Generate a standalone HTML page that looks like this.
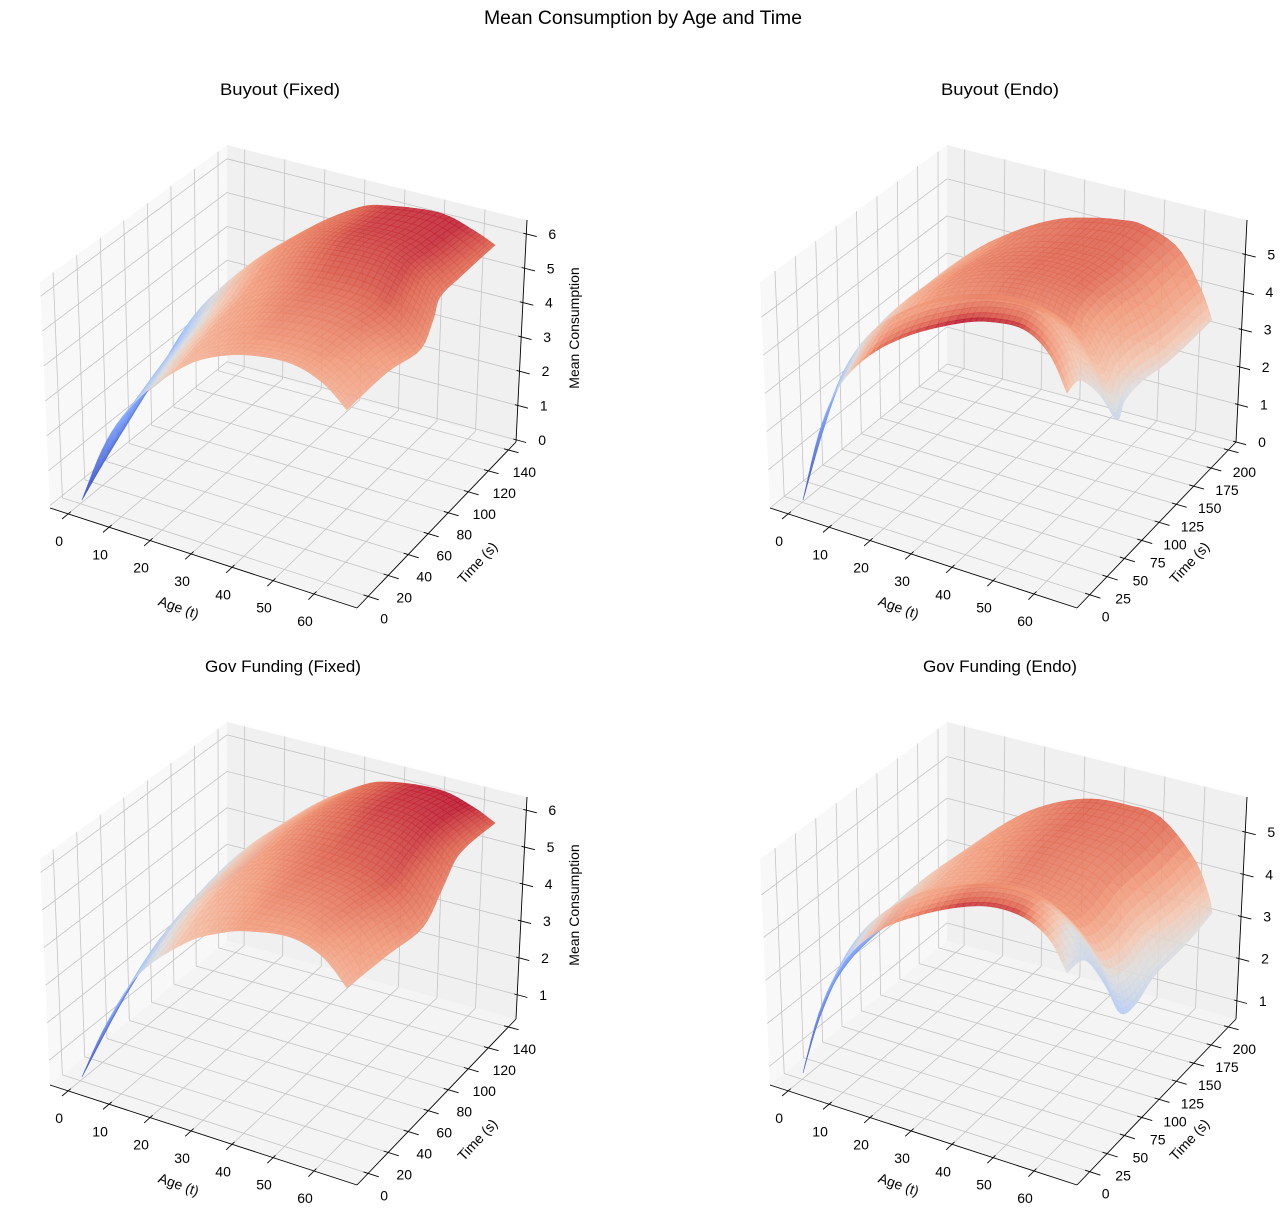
<!DOCTYPE html>
<html><head><meta charset="utf-8"><style>
html,body{margin:0;padding:0;background:#fff;}
svg{display:block;font-family:"Liberation Sans","DejaVu Sans",sans-serif;}
</style></head><body>
<svg id="s" xmlns="http://www.w3.org/2000/svg" width="1285" height="1229" viewBox="0 0 1285 1229">
<rect width="1285" height="1229" fill="#fff"/>
<text x="643" y="24" font-size="19" text-anchor="middle" textLength="318" lengthAdjust="spacingAndGlyphs">Mean Consumption by Age and Time</text>
<text x="280" y="95" font-size="16.5" text-anchor="middle" textLength="120" lengthAdjust="spacingAndGlyphs">Buyout (Fixed)</text>
<text x="1000" y="95" font-size="16.5" text-anchor="middle" textLength="118" lengthAdjust="spacingAndGlyphs">Buyout (Endo)</text>
<text x="283" y="672" font-size="16.5" text-anchor="middle" textLength="156" lengthAdjust="spacingAndGlyphs">Gov Funding (Fixed)</text>
<text x="1000" y="672" font-size="16.5" text-anchor="middle" textLength="154" lengthAdjust="spacingAndGlyphs">Gov Funding (Endo)</text>
<g id="g"></g>
</svg>
<script>
(function(){
var NS="http://www.w3.org/2000/svg",G=document.getElementById("g");
function el(t,a,txt){var e=document.createElementNS(NS,t);for(var k in a)e.setAttribute(k,a[k]);if(txt!==undefined)e.textContent=txt;G.appendChild(e);return e;}
var L=[50,508],F=[357,608],R=[516,442],B=[227,364],L2=[40,282],F2=[360,378],R2=[527,220],B2=[227,145];
function bl(p,q,r,s,a,b){return[(1-a)*(1-b)*p[0]+a*(1-b)*q[0]+a*b*r[0]+(1-a)*b*s[0],(1-a)*(1-b)*p[1]+a*(1-b)*q[1]+a*b*r[1]+(1-a)*b*s[1]];}
function P(o,a,s,h){var f=bl(L,F,R,B,a,s),t=bl(L2,F2,R2,B2,a,s);return[o[0]+f[0]+(t[0]-f[0])*h,o[1]+f[1]+(t[1]-f[1])*h];}
function pts(a){return a.map(function(p){return p[0].toFixed(1)+","+p[1].toFixed(1)}).join(" ");}
function line(p,q,c,w){el("line",{x1:p[0].toFixed(1),y1:p[1].toFixed(1),x2:q[0].toFixed(1),y2:q[1].toFixed(1),stroke:c,"stroke-width":w});}
var stops=[[0,59,76,192],[0.2,124,159,249],[0.35,170,199,253],[0.5,221,221,221],[0.6,244,196,173],[0.75,241,152,120],[0.875,221,96,76],[1,180,4,38]];
function cm(t){t=Math.max(0,Math.min(1,t));for(var i=0;i<stops.length-1;i++){var a=stops[i],b=stops[i+1];if(t<=b[0]){var f=(t-a[0])/(b[0]-a[0]);return"rgb("+Math.round(a[1]+f*(b[1]-a[1]))+","+Math.round(a[2]+f*(b[2]-a[2]))+","+Math.round(a[3]+f*(b[3]-a[3]))+")";}}return"rgb(180,4,38)";}
function lp(ps,t){var n=ps.length-1,x=t*n,i=Math.min(Math.floor(x),n-1),f=x-i;
 var a=ps[Math.max(i-1,0)],b=ps[i],c=ps[i+1],d=ps[Math.min(i+2,n)],r=[0,0];
 for(var k=0;k<2;k++){var m1=(c[k]-a[k])/2,m2=(d[k]-b[k])/2,f2=f*f,f3=f2*f;r[k]=(2*f3-3*f2+1)*b[k]+(f3-2*f2+f)*m1+(-2*f3+3*f2)*c[k]+(f3-f2)*m2;}return r;}
function i1(xs,ys,x){for(var i=0;i<xs.length-1;i++){if(x<=xs[i+1]){var f=(x-xs[i])/(xs[i+1]-xs[i]);return ys[i]+f*(ys[i+1]-ys[i]);}}return ys[ys.length-1];}
function gv(us,vs,g,u,v){var col=g.map(function(r){return i1(us,r,u)});return i1(vs,col,v);}
var af=function(a){return 0.059+0.01335*a;};
var tf1=function(t){return 0.07+0.0063*t;},tf2=function(t){return 0.08+0.00436*t;};
var panels=[
{o:[0,0],tf:tf1,tt:[0,20,40,60,80,100,120,140],zf:function(z){return 0.01+0.1545*z},zt:[0,1,2,3,4,5,6],zl:true,
 C0:[[82,500],[107,440],[140,397],[183,367],[213,357],[247,355],[290,363],[323,383],[347,410]],
 C1:[[235,285],[257,267],[307,230],[357,208],[390,206],[440,213],[473,230],[495,245]],
 D0:[[82,500],[107,457],[150,387],[180,337],[213,303],[235,285]],
 D1:[[347,410],[360,397],[390,370],[420,350],[433,320],[440,297],[460,277],[495,245]],
 us:[0,0.15,0.35,0.6,0.8,1],vs:[0,0.5,1],g:[[0.3,1.5,4.0,4.5,4.5,4.2],[1.1,2.7,4.8,5.6,5.7,5.0],[2.4,3.6,5.1,6.0,6.1,5.5]],vmin:0.3,vmax:6.3},
{o:[720,0],tf:tf2,tt:[0,25,50,75,100,125,150,175,200],zf:function(z){return 0.169*z},zt:[0,1,2,3,4,5],zl:false,
 C0:[[803,500],[820,430],[840,385],[870,355],[910,335],[960,323],[993,322],[1025,330],[1050,355],[1067,393]],
 C1:[[903,310],[930,283],[960,260],[990,242],[1027,227],[1060,219],[1093,218],[1120,220],[1143,225],[1177,247],[1200,287],[1212,320]],
 D0:[[803,500],[820,440],[832,400],[850,370],[875,340],[903,310]],
 D1:[[1067,393],[1080,380],[1100,395],[1117,420],[1125,400],[1143,380],[1170,360],[1212,320]],
 us:[0,0.15,0.35,0.55,0.75,0.9,1],vs:[0,0.06,0.15,0.43,0.7,1],
 g:[[0.2,1.5,5.0,5.8,5.6,4.5,3.8],[0.4,1.7,4.6,5.2,5.0,4.2,3.5],[0.7,2.0,4.2,4.6,4.5,3.8,3.2],[1.2,2.7,4.4,4.8,4.6,3.5,2.6],[1.6,3.2,4.6,5.0,5.0,4.0,3.0],[2.4,3.6,4.7,5.1,5.1,4.3,3.3]],vmin:0.2,vmax:5.8},
{o:[0,577],tf:tf1,tt:[0,20,40,60,80,100,120,140],zf:function(z){return -0.0575+0.1664*z},zt:[1,2,3,4,5,6],zl:true,
 C0:[[82,1077],[107,1023],[140,973],[187,942],[220,933],[247,931],[290,937],[323,957],[347,988]],
 C1:[[257,857],[307,810],[357,787],[390,782],[440,790],[473,807],[495,823]],
 D0:[[82,1077],[123,1000],[157,947],[190,907],[227,880],[257,857]],
 D1:[[347,988],[360,977],[390,953],[423,927],[443,887],[460,853],[495,823]],
 us:[0,0.15,0.35,0.6,0.8,1],vs:[0,0.5,1],g:[[0.5,1.9,4.0,4.7,4.7,4.3],[1.3,2.9,4.9,5.6,5.7,5.0],[2.4,3.6,5.1,6.1,6.2,5.6]],vmin:0.5,vmax:6.3},
{o:[720,577],tf:tf2,tt:[0,25,50,75,100,125,150,175,200],zf:function(z){return -0.108+0.19*z},zt:[1,2,3,4,5],zl:false,
 C0:[[803,1073],[820,1010],[845,960],[880,930],[920,915],[960,907],[993,907],[1025,918],[1050,940],[1067,973]],
 C1:[[900,915],[930,885],[960,857],[995,830],[1027,812],[1060,802],[1093,799],[1127,805],[1160,817],[1193,857],[1208,893],[1212,913]],
 D0:[[803,1073],[815,1030],[830,990],[850,960],[875,935],[900,915]],
 D1:[[1067,973],[1085,960],[1105,985],[1120,1013],[1135,1005],[1155,975],[1185,945],[1212,913]],
 us:[0,0.15,0.35,0.55,0.75,0.9,1],vs:[0,0.06,0.15,0.43,0.7,1],
 g:[[0.6,1.8,4.2,5.3,5.2,3.5,3.0],[0.7,1.9,4.0,4.8,4.7,3.3,2.9],[0.8,2.0,3.8,4.4,4.2,3.0,2.8],[1.0,2.4,3.9,4.5,4.3,3.0,2.4],[1.4,2.8,4.1,4.7,4.5,3.2,2.9],[2.0,3.2,4.3,4.9,4.8,3.6,3.1]],vmin:0.6,vmax:5.5}
];
panels.forEach(function(p){
 var o=p.o,gc="#c4c4c4",gw=0.8;
 el("polygon",{points:pts([P(o,0,0,0),P(o,0,1,0),P(o,0,1,1),P(o,0,0,1)]),fill:"#f8f8f8"});
 el("polygon",{points:pts([P(o,0,1,0),P(o,1,1,0),P(o,1,1,1),P(o,0,1,1)]),fill:"#f0f0f0"});
 el("polygon",{points:pts([P(o,0,0,0),P(o,1,0,0),P(o,1,1,0),P(o,0,1,0)]),fill:"#f4f4f4"});
 [0,10,20,30,40,50,60].forEach(function(a){var x=af(a);line(P(o,x,0,0),P(o,x,1,0),gc,gw);line(P(o,x,1,0),P(o,x,1,1),gc,gw);});
 p.tt.forEach(function(t){var x=p.tf(t);line(P(o,0,x,0),P(o,1,x,0),gc,gw);line(P(o,0,x,0),P(o,0,x,1),gc,gw);});
 p.zt.forEach(function(z){var h=p.zf(z);line(P(o,0,0,h),P(o,0,1,h),gc,gw);line(P(o,0,1,h),P(o,1,1,h),gc,gw);});
 line(P(o,0,0,0),P(o,1,0,0),"#000",0.9);line(P(o,1,0,0),P(o,1,1,0),"#000",0.9);line(P(o,1,1,0),P(o,1,1,1),"#000",0.9);
 [0,10,20,30,40,50,60].forEach(function(a){var x=af(a),q=P(o,x,0,0);line(P(o,x,-0.035,0),P(o,x,0.015,0),"#000",0.9);
  el("text",{x:(q[0]-9).toFixed(1),y:(q[1]+32).toFixed(1),"font-size":"14","text-anchor":"middle"},String(a));});
 p.tt.forEach(function(t){var x=p.tf(t),q=P(o,1,x,0);line(P(o,0.985,x,0),P(o,1.035,x,0),"#000",0.9);
  el("text",{x:(q[0]+16).toFixed(1),y:(q[1]+27).toFixed(1),"font-size":"14","text-anchor":"middle"},String(t));});
 p.zt.forEach(function(z){var h=p.zf(z),q=P(o,1,1,h);line(P(o,0.99,1,h),P(o,1.035,1,h),"#000",0.9);
  el("text",{x:(q[0]+26).toFixed(1),y:(q[1]+5).toFixed(1),"font-size":"14","text-anchor":"middle"},String(z));});
 el("text",{x:0,y:0,"font-size":"14","text-anchor":"middle",transform:"translate("+(o[0]+177)+","+(o[1]+612)+") rotate(20)"},"Age (t)");
 el("text",{x:0,y:0,"font-size":"14","text-anchor":"middle",transform:"translate("+(o[0]+(p.o[0]?473:481))+","+(o[1]+566)+") rotate(-47)"},"Time (s)");
 if(p.zl)el("text",{x:0,y:0,"font-size":"14","text-anchor":"middle",transform:"translate("+(o[0]+579)+","+(o[1]+328)+") rotate(-90)"},"Mean Consumption");
 var N=48,M=32,P00=p.C0[0],P10=p.C0[p.C0.length-1],P01=p.C1[0],P11=p.C1[p.C1.length-1];
 function S(u,v){var c0=lp(p.C0,u),c1=lp(p.C1,u),d0=lp(p.D0,v),d1=lp(p.D1,v),r=[0,0];
  for(var k=0;k<2;k++)r[k]=(1-v)*c0[k]+v*c1[k]+(1-u)*d0[k]+u*d1[k]-((1-u)*(1-v)*P00[k]+u*(1-v)*P10[k]+(1-u)*v*P01[k]+u*v*P11[k]);return r;}
 var grid=[];for(var j=0;j<=M;j++){grid[j]=[];for(var i=0;i<=N;i++)grid[j][i]=S(i/N,j/M);}
 for(var j=M-1;j>=0;j--)for(var i=0;i<N;i++){
  var z=gv(p.us,p.vs,p.g,(i+0.5)/N,(j+0.5)/M),c=cm((z-p.vmin)/(p.vmax-p.vmin));
  el("polygon",{points:pts([grid[j][i],grid[j][i+1],grid[j+1][i+1],grid[j+1][i]]),fill:c,stroke:c,"stroke-width":"0.6","fill-opacity":"0.88","stroke-opacity":"0.88"});
 }
});
})();
</script>
</body></html>
